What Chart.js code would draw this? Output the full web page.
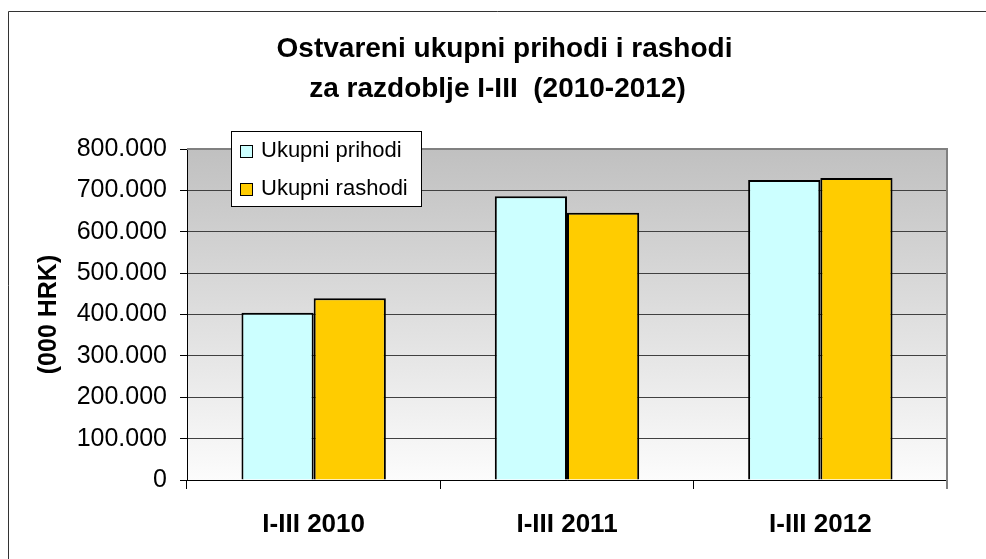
<!DOCTYPE html>
<html><head><meta charset="utf-8">
<script src="https://cdn.jsdelivr.net/npm/chart.js@4.4.0/dist/chart.umd.min.js"></script>
<style>html,body{margin:0;padding:0;background:#fff;} #wrap{width:986px;height:559px;position:relative}</style>
</head><body><div id="wrap"><canvas id="c" width="986" height="559"></canvas></div>
<script>
const categories = ['I-III 2010', 'I-III 2011', 'I-III 2012'];
const prihodi = [404000, 686000, 725000];
const rashodi = [439000, 646000, 730000];
const seriesNames = ['Ukupni prihodi', 'Ukupni rashodi'];
const seriesColors = ['#CCFFFF', '#FFCC00'];
const yTickLabels = ['0', '100.000', '200.000', '300.000', '400.000', '500.000', '600.000', '700.000', '800.000'];
const titleLines = ['Ostvareni ukupni prihodi i rashodi', 'za razdoblje I-III  (2010-2012)'];
const yAxisTitle = '(000 HRK)';

const FONT = "'Liberation Sans', Arial, sans-serif";

const decor = {
  id: 'decor',
  beforeDraw(chart) {
    const {ctx, chartArea: a} = chart;
    ctx.save();
    const g = ctx.createLinearGradient(0, a.top, 0, a.bottom);
    g.addColorStop(0, '#c0c0c0');
    g.addColorStop(1, '#fcfcfc');
    ctx.fillStyle = g;
    ctx.fillRect(a.left, a.top, a.right - a.left, a.bottom - a.top);
    // outer frame
    ctx.strokeStyle = '#333';
    ctx.lineWidth = 1;
    ctx.beginPath();
    ctx.moveTo(8.5, 559); ctx.lineTo(8.5, 11.5); ctx.lineTo(986, 11.5);
    ctx.stroke();
    // title
    ctx.fillStyle = '#000';
    ctx.font = "bold 28px " + FONT;
    ctx.textAlign = 'center';
    ctx.textBaseline = 'alphabetic';
    ctx.fillText(titleLines[0], 504.5, 57);
    ctx.fillText(titleLines[1], 497.5, 97);
    ctx.restore();
  },
  afterDraw(chart) {
    const {ctx, chartArea: a} = chart;
    ctx.save();
    // plot border top/right
    ctx.strokeStyle = '#808080';
    ctx.lineWidth = 2;
    ctx.beginPath();
    ctx.moveTo(a.left, a.top); ctx.lineTo(a.right, a.top); ctx.lineTo(a.right, a.bottom + 9);
    ctx.stroke();
    // legend
    ctx.fillStyle = '#fff';
    ctx.fillRect(231, 131, 191, 76);
    ctx.strokeStyle = '#000';
    ctx.lineWidth = 1;
    ctx.strokeRect(231.5, 131.5, 190, 75);
    const ys = [145, 183];
    const bases = [157, 195];
    ctx.font = "22px " + FONT;
    ctx.textAlign = 'left';
    ctx.textBaseline = 'alphabetic';
    chart.data.datasets.forEach((ds, i) => {
      ctx.fillStyle = ds.backgroundColor;
      ctx.fillRect(240, ys[i], 12, 12);
      ctx.strokeRect(240.5, ys[i] + 0.5, 12, 12);
      ctx.fillStyle = '#000';
      ctx.fillText(ds.label, 261, bases[i]);
    });
    ctx.restore();
  }
};

new Chart(document.getElementById('c'), {
  type: 'bar',
  data: {
    labels: categories,
    datasets: [
      {label: seriesNames[0], data: prihodi, backgroundColor: seriesColors[0], borderColor: '#000', borderWidth: 2, borderSkipped: 'start', categoryPercentage: 0.57, barPercentage: 1},
      {label: seriesNames[1], data: rashodi, backgroundColor: seriesColors[1], borderColor: '#000', borderWidth: 2, borderSkipped: 'start', categoryPercentage: 0.57, barPercentage: 1}
    ]
  },
  options: {
    responsive: false,
    animation: false,
    layout: {padding: {left: 0, top: 149, right: 39, bottom: 0}},
    plugins: {legend: {display: false}, title: {display: false}, tooltip: {enabled: false}},
    scales: {
      x: {
        offset: true,
        grid: {offset: true, drawOnChartArea: false, drawTicks: true, tickLength: 9, tickColor: '#000', lineWidth: 1},
        border: {color: '#000', width: 1},
        ticks: {font: {family: FONT, size: 26, weight: 'bold'}, color: '#000', padding: 20, maxRotation: 0},
        afterFit: s => { s.height = 79; }
      },
      y: {
        min: 0, max: 800000,
        ticks: {stepSize: 100000, callback: (v, i) => yTickLabels[i], font: {family: FONT, size: 25}, color: '#000', padding: 13},
        grid: {color: '#404040', tickColor: '#000', tickLength: 7, lineWidth: 1},
        border: {color: '#000', width: 1},
        title: {display: true, text: yAxisTitle, font: {family: FONT, size: 25, weight: 'bold'}, color: '#000', padding: {top: 34, bottom: 0}},
        afterFit: s => { s.width = 187; }
      }
    }
  },
  plugins: [decor]
});
</script>
</body></html>
